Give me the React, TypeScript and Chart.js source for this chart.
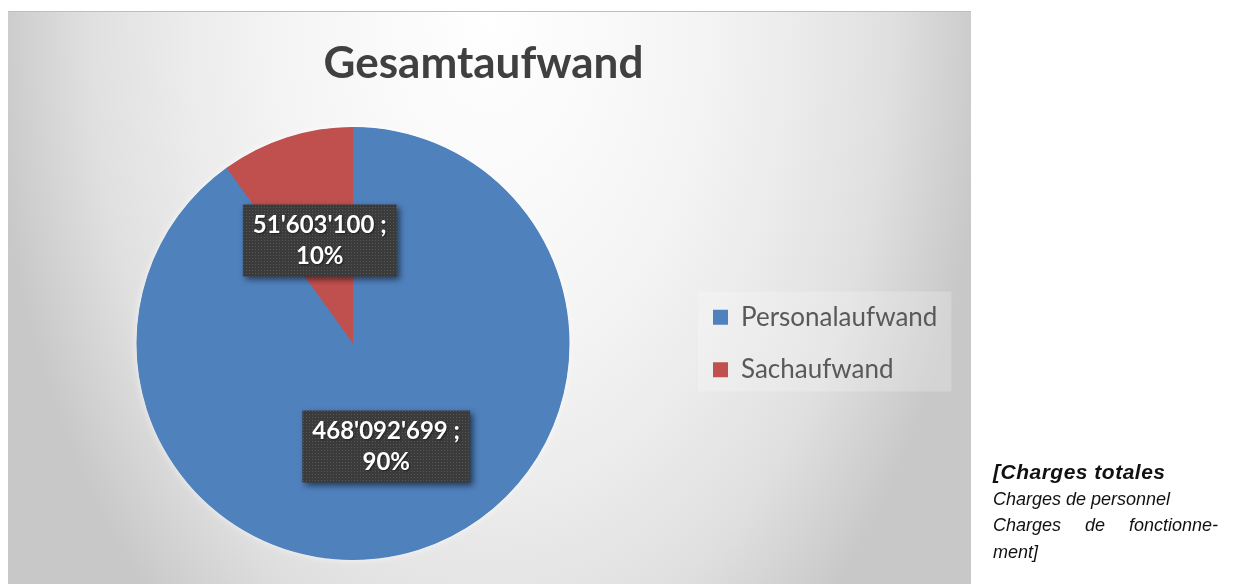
import React, { useEffect, useRef } from "react";
import { Chart, registerables } from "chart.js";

Chart.register(...registerables);

const categories = ["Personalaufwand", "Sachaufwand"];
const values = [468092699, 51603100];
const sliceColors = ["#4F81BD", "#C0504D"];
const chartTitle = "Gesamtaufwand";
const noteLines = ["[Charges totales", "Charges de personnel", "Charges de fonctionne-", "ment]"];

const CANVAS_W = 963;
const CANVAS_H = 573;
const LEGEND_FONT = 26;
const LEGEND_PAD = 26.5;
const LEGEND_BOX = 15;

function fmtNumber(n: number): string {
  return String(n).replace(/\B(?=(\d{3})+(?!\d))/g, "'");
}

function makePattern(ctx: CanvasRenderingContext2D): CanvasPattern | string {
  const c = document.createElement("canvas");
  c.width = 3;
  c.height = 3;
  const p = c.getContext("2d");
  if (!p) return "#3e3e3e";
  p.fillStyle = "#3b3b3b";
  p.fillRect(0, 0, 3, 3);
  p.fillStyle = "#575757";
  p.fillRect(1, 1, 1, 1);
  return ctx.createPattern(c, "repeat") || "#3e3e3e";
}

export default function App() {
  const canvasRef = useRef<HTMLCanvasElement | null>(null);

  useEffect(() => {
    const canvas = canvasRef.current;
    if (!canvas) return;
    const ctx0 = canvas.getContext("2d");
    if (!ctx0) return;
    ctx0.font = `${LEGEND_FONT}px Lato`;
    const maxText = Math.max(...categories.map((c) => ctx0.measureText(c).width));
    const legendWidth = LEGEND_PAD + LEGEND_BOX + LEGEND_FONT / 2 + maxText + 10;
    const legendLeftTarget = 678.5;
    const padRight = Math.max(0, CANVAS_W - legendLeftTarget - legendWidth);
    const pattern = makePattern(ctx0);
    const total = values.reduce((a, b) => a + b, 0);

    const glowPlugin = {
      id: "pieGlow",
      beforeDatasetsDraw(chart: any) {
        const meta = chart.getDatasetMeta(0);
        const arc = meta.data[0];
        if (!arc) return;
        const ctx = chart.ctx;
        ctx.save();
        ctx.shadowColor = "rgba(255,255,255,0.7)";
        ctx.shadowBlur = 8;
        ctx.fillStyle = sliceColors[0];
        ctx.beginPath();
        ctx.arc(arc.x, arc.y, arc.outerRadius - 0.5, 0, Math.PI * 2);
        ctx.fill();
        ctx.restore();
      },
    };

    const legendBgPlugin = {
      id: "legendBg",
      beforeDraw(chart: any) {
        const lg = chart.legend;
        if (!lg) return;
        const ctx = chart.ctx;
        const boxX = lg.left + LEGEND_PAD;
        const left = boxX - 15;
        const right = boxX + LEGEND_BOX + LEGEND_FONT / 2 + maxText + 14;
        const mid = (lg.top + lg.bottom) / 2;
        ctx.save();
        ctx.fillStyle = "rgba(255,255,255,0.22)";
        ctx.fillRect(left, mid - 52, right - left, 100);
        ctx.restore();
      },
    };

    const labelPlugin = {
      id: "dataLabels",
      afterDatasetsDraw(chart: any) {
        const ctx = chart.ctx;
        const meta = chart.getDatasetMeta(0);
        meta.data.forEach((arc: any, i: number) => {
          const pos = arc.tooltipPosition(false);
          const l1 = fmtNumber(values[i]) + " ;";
          const l2 = Math.round((values[i] / total) * 100) + "%";
          ctx.save();
          ctx.font = "bold 24px Lato";
          const w = Math.max(ctx.measureText(l1).width, ctx.measureText(l2).width) + 20;
          const h = 72;
          ctx.shadowColor = "rgba(0,0,0,0.55)";
          ctx.shadowBlur = 6;
          ctx.shadowOffsetX = 3;
          ctx.shadowOffsetY = 3;
          ctx.fillStyle = pattern;
          ctx.fillRect(pos.x - w / 2, pos.y - h / 2, w, h);
          ctx.shadowColor = "rgba(0,0,0,0.5)";
          ctx.shadowBlur = 2;
          ctx.shadowOffsetX = 1;
          ctx.shadowOffsetY = 1;
          ctx.fillStyle = "#ffffff";
          ctx.textAlign = "center";
          ctx.textBaseline = "middle";
          ctx.fillText(l1, pos.x, pos.y - 15);
          ctx.fillText(l2, pos.x, pos.y + 16);
          ctx.restore();
        });
      },
    };

    const chart = new Chart(canvas, {
      type: "pie",
      data: {
        labels: categories,
        datasets: [
          {
            data: values,
            backgroundColor: sliceColors,
            borderWidth: 0,
          },
        ],
      },
      options: {
        animation: false,
        responsive: false,
        events: [],
        layout: { padding: { left: 11.5, right: padRight, top: 0, bottom: 24 } },
        plugins: {
          title: {
            display: true,
            text: chartTitle,
            color: "#404040",
            font: { family: "Lato", size: 44, weight: "bold", lineHeight: 1.2 },
            padding: { top: 26, bottom: 37.2 },
          },
          legend: {
            position: "right",
            fullSize: false,
            labels: {
              boxWidth: LEGEND_BOX,
              boxHeight: LEGEND_BOX,
              padding: LEGEND_PAD,
              color: "#595959",
              font: { family: "Lato", size: LEGEND_FONT },
            },
          },
          tooltip: { enabled: false },
        },
      },
      plugins: [legendBgPlugin, glowPlugin, labelPlugin],
    } as any);

    return () => {
      chart.destroy();
    };
  }, []);

  return (
    <div>
      <div
        style={{
          position: "fixed",
          left: 8,
          top: 11,
          width: CANVAS_W,
          height: 590,
          boxSizing: "border-box",
          borderTop: "1px solid #bdbdbd",
          background:
            "radial-gradient(ellipse 500px 800px at 50% 0%, #ffffff 0%, #f5f5f5 40%, #ececec 60%, #e0e0e0 80%, #cdcdcd 96%, #c8c8c8 100%)",
        }}
      />
      <canvas
        ref={canvasRef}
        width={CANVAS_W}
        height={CANVAS_H}
        style={{ position: "fixed", left: 8, top: 11, width: CANVAS_W, height: CANVAS_H }}
      />
      <div
        style={{
          position: "fixed",
          left: 993,
          top: 459,
          width: 225,
          fontFamily: '"Liberation Sans", Arial, sans-serif',
          fontSize: 18,
          lineHeight: "26.7px",
          fontStyle: "italic",
          color: "#111111",
        }}
      >
        <div style={{ fontWeight: "bold", fontSize: 21, letterSpacing: "0.5px" }}>{noteLines[0]}</div>
        <div>{noteLines[1]}</div>
        <div style={{ textAlign: "justify", textAlignLast: "justify" as any }}>{noteLines[2]}</div>
        <div>{noteLines[3]}</div>
      </div>
    </div>
  );
}
